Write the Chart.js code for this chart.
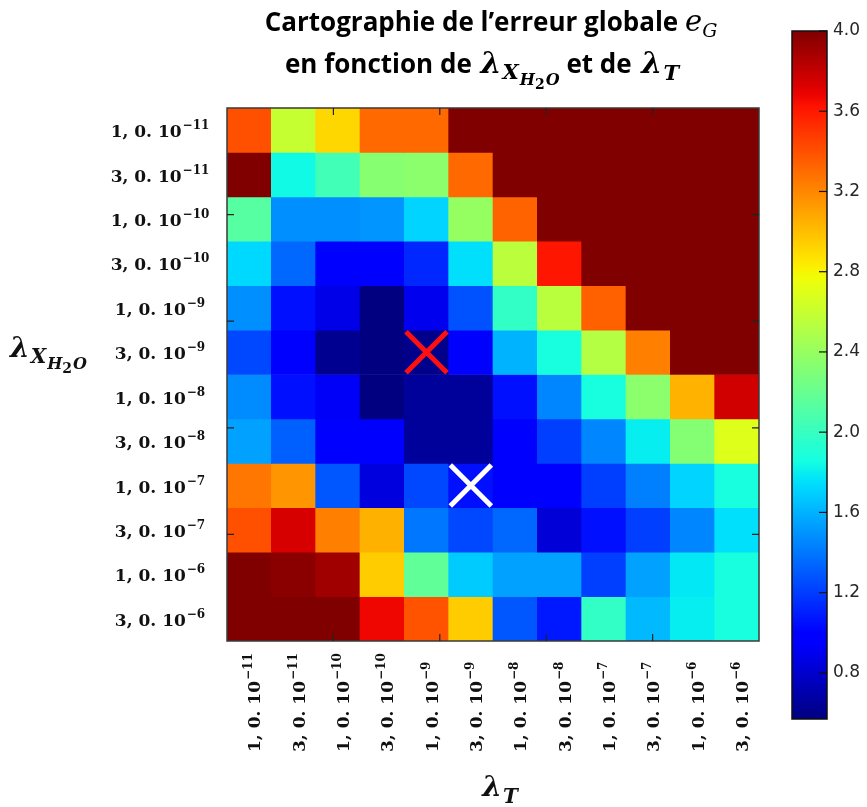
<!DOCTYPE html>
<html>
<head>
<meta charset="utf-8">
<script src="https://cdn.jsdelivr.net/npm/chart.js@4.4.1/dist/chart.umd.min.js"></script>
<style>
  html, body { margin: 0; padding: 0; background: #fff; }
</style>
</head>
<body>
<canvas id="carto" width="867" height="807"></canvas>
<script>
// tick labels (same grid for both lambdas)
var lambdaMant = ['1, 0. 10', '3, 0. 10', '1, 0. 10', '3, 0. 10', '1, 0. 10', '3, 0. 10',
                  '1, 0. 10', '3, 0. 10', '1, 0. 10', '3, 0. 10', '1, 0. 10', '3, 0. 10'];
var lambdaExp = ['\u221211', '\u221211', '\u221210', '\u221210', '\u22129', '\u22129',
                 '\u22128', '\u22128', '\u22127', '\u22127', '\u22126', '\u22126'];

// e_G, one array per lambda_XH2O row (top to bottom), columns = lambda_T
var row00 = [3.40, 2.59, 2.91, 3.31, 3.31, 4.00, 4.00, 4.00, 4.00, 4.00, 4.00, 4.00];
var row01 = [4.00, 1.84, 2.04, 2.33, 2.35, 3.31, 4.00, 4.00, 4.00, 4.00, 4.00, 4.00];
var row02 = [2.13, 1.48, 1.48, 1.50, 1.71, 2.39, 3.33, 4.00, 4.00, 4.00, 4.00, 4.00];
var row03 = [1.73, 1.35, 0.98, 0.98, 1.13, 1.75, 2.55, 3.61, 4.00, 4.00, 4.00, 4.00];
var row04 = [1.48, 1.05, 0.88, 0.57, 0.90, 1.27, 1.98, 2.54, 3.34, 4.00, 4.00, 4.00];
var row05 = [1.24, 0.98, 0.62, 0.57, 0.60, 0.98, 1.60, 1.87, 2.52, 3.23, 4.00, 4.00];
var row06 = [1.47, 1.05, 0.93, 0.57, 0.65, 0.65, 1.05, 1.45, 1.87, 2.35, 3.04, 3.76];
var row07 = [1.54, 1.32, 0.98, 0.98, 0.65, 0.65, 0.98, 1.21, 1.45, 1.80, 2.32, 2.69];
var row08 = [3.26, 3.15, 1.29, 0.85, 1.24, 1.05, 0.98, 0.98, 1.21, 1.43, 1.71, 1.87];
var row09 = [3.40, 3.74, 3.23, 3.05, 1.40, 1.24, 1.35, 0.83, 1.05, 1.21, 1.45, 1.75];
var row10 = [4.00, 3.97, 3.90, 2.95, 2.17, 1.68, 1.54, 1.54, 1.21, 1.54, 1.78, 1.87];
var row11 = [4.00, 4.00, 4.00, 3.67, 3.39, 2.95, 1.29, 1.08, 1.98, 1.62, 1.80, 1.87];
var rows = [row00, row01, row02, row03, row04, row05, row06, row07, row08, row09, row10, row11];

// colour scale
var vmin = 0.57, vmax = 4.0;
var cbTicks = [0.8, 1.2, 1.6, 2.0, 2.4, 2.8, 3.2, 3.6, 4.0];

// the two crosses (column, row)
var markCol = [4, 5];
var markRow = [5, 8];
var markColor = ['#ff1010', '#ffffff'];

var colLabels = lambdaMant.map(function (m, i) { return m + '^' + lambdaExp[i]; });
var nRows = rows.length;

function seg(t, pts) {
  for (var i = 1; i < pts.length; i++) {
    if (t <= pts[i][0]) {
      var a = pts[i - 1], b = pts[i];
      return a[1] + (b[1] - a[1]) * (t - a[0]) / (b[0] - a[0]);
    }
  }
  return pts[pts.length - 1][1];
}
// matplotlib "jet"
function jet(t) {
  t = Math.max(0, Math.min(1, t));
  var r = seg(t, [[0, 0], [0.35, 0], [0.66, 1], [0.89, 1], [1, 0.5]]);
  var g = seg(t, [[0, 0], [0.125, 0], [0.375, 1], [0.64, 1], [0.91, 0], [1, 0]]);
  var b = seg(t, [[0, 0.5], [0.11, 1], [0.34, 1], [0.65, 0], [1, 0]]);
  return 'rgb(' + Math.round(r * 255) + ',' + Math.round(g * 255) + ',' + Math.round(b * 255) + ')';
}
function colorOf(v) { return jet((v - vmin) / (vmax - vmin)); }

// text made of pieces with different fonts / offsets
function richWidth(ctx, parts) {
  var w = 0;
  parts.forEach(function (p) { ctx.font = p.f; w += ctx.measureText(p.t).width + (p.k || 0); });
  return w;
}
function richDraw(ctx, parts, x, y) {
  parts.forEach(function (p) {
    ctx.font = p.f;
    ctx.fillText(p.t, x, y + (p.dy || 0));
    x += ctx.measureText(p.t).width + (p.k || 0);
  });
}

var serifB = '"DejaVu Serif"';
var titleFont = 'bold 26px "Open Sans"';
function lambdaX(big, sub, subsub) {
  return [
    {t: '\u03bb', f: 'bold italic ' + big + 'px ' + serifB, k: 1},
    {t: 'X', f: 'bold italic ' + sub + 'px ' + serifB, dy: 6, k: 1},
    {t: 'H', f: 'bold italic ' + subsub + 'px ' + serifB, dy: 12},
    {t: '2', f: 'bold ' + (subsub - 2) + 'px ' + serifB, dy: 16, k: 1},
    {t: 'O', f: 'bold italic ' + subsub + 'px ' + serifB, dy: 12}
  ];
}

var decor = {
  id: 'decor',
  afterDraw: function (chart) {
    var ctx = chart.ctx, a = chart.chartArea, xs = chart.scales.x, ys = chart.scales.y;
    ctx.save();

    // frame + small inner ticks
    ctx.strokeStyle = '#3a3a3a';
    ctx.lineWidth = 1.5;
    ctx.strokeRect(a.left, a.top, a.right - a.left, a.bottom - a.top);
    ctx.lineWidth = 1.2;
    ctx.strokeStyle = '#222';
    ctx.beginPath();
    for (var k = 1; k < 5; k++) {
      var px = xs.getPixelForValue(-0.5 + nRows * k / 5);
      var py = ys.getPixelForValue(nRows * k / 5);
      ctx.moveTo(px, a.top); ctx.lineTo(px, a.top + 7);
      ctx.moveTo(px, a.bottom); ctx.lineTo(px, a.bottom - 7);
      ctx.moveTo(a.left, py); ctx.lineTo(a.left + 7, py);
      ctx.moveTo(a.right, py); ctx.lineTo(a.right - 7, py);
    }
    ctx.stroke();

    ctx.fillStyle = '#111';
    ctx.textAlign = 'left';
    ctx.textBaseline = 'alphabetic';

    var mantFont = 'bold 17px ' + serifB, expFont = 'bold 12px ' + serifB;
    // y tick labels
    for (var r = 0; r < nRows; r++) {
      var parts = [{t: lambdaMant[r], f: mantFont, k: 1},
                   {t: lambdaExp[r], f: expFont, dy: -8}];
      var w = richWidth(ctx, parts);
      richDraw(ctx, parts, 160 - w / 2, ys.getPixelForValue(nRows - 0.5 - r) + 7);
    }
    // x tick labels, rotated
    for (var c = 0; c < lambdaMant.length; c++) {
      var cx = xs.getPixelForValue(c);
      ctx.save();
      ctx.translate(cx + 11, 752);
      ctx.rotate(-Math.PI / 2);
      richDraw(ctx, [{t: lambdaMant[c], f: mantFont, k: 1},
                     {t: lambdaExp[c], f: expFont, dy: -8}], 0, 0);
      ctx.restore();
    }

    // axis titles
    richDraw(ctx, lambdaX(28, 20, 16), 10, 357);
    var lt = [{t: '\u03bb', f: 'bold italic 28px ' + serifB, k: 1},
              {t: 'T', f: 'bold italic 20px ' + serifB, dy: 7}];
    richDraw(ctx, lt, 500 - richWidth(ctx, lt) / 2, 796);

    // title
    ctx.fillStyle = '#000';
    var l1 = [{t: 'Cartographie de l\u2019erreur globale ', f: titleFont},
              {t: 'e', f: 'italic 29px ' + serifB},
              {t: 'G', f: 'italic 19px ' + serifB, dy: 6}];
    richDraw(ctx, l1, 491 - richWidth(ctx, l1) / 2, 31);
    var l2 = [{t: 'en fonction de ', f: titleFont, k: 2}].concat(lambdaX(30, 21, 16))
      .concat([{t: ' et de ', f: titleFont, k: 3},
               {t: '\u03bb', f: 'bold italic 30px ' + serifB, k: 1},
               {t: 'T', f: 'bold italic 21px ' + serifB, dy: 7}]);
    richDraw(ctx, l2, 482 - richWidth(ctx, l2) / 2, 73);

    // colour bar
    var cbL = 792, cbR = 827, cbT = 31, cbB = 719;
    var grad = ctx.createLinearGradient(0, cbB, 0, cbT);
    for (var s = 0; s <= 64; s++) grad.addColorStop(s / 64, jet(s / 64));
    ctx.fillStyle = grad;
    ctx.fillRect(cbL, cbT, cbR - cbL, cbB - cbT);
    ctx.strokeStyle = '#111';
    ctx.lineWidth = 1.5;
    ctx.strokeRect(cbL, cbT, cbR - cbL, cbB - cbT);
    ctx.lineWidth = 1.2;
    ctx.fillStyle = '#262626';
    ctx.font = '17px "DejaVu Sans"';
    ctx.textBaseline = 'middle';
    cbTicks.forEach(function (v) {
      var ty = cbB - (v - vmin) / (vmax - vmin) * (cbB - cbT);
      ctx.beginPath();
      ctx.moveTo(cbR - 8, ty); ctx.lineTo(cbR, ty);
      ctx.stroke();
      ctx.fillText(v.toFixed(1), cbR + 6, ty);
    });
    ctx.restore();
  }
};

var datasets = [{
  type: 'scatter',
  order: 0,
  data: markCol.map(function (c, i) { return {x: colLabels[c], y: nRows - 0.5 - markRow[i]}; }),
  pointStyle: 'crossRot',
  pointRadius: 29,
  pointBorderWidth: 5,
  pointBorderColor: markColor,
  pointBackgroundColor: markColor
}];
rows.forEach(function (vals, r) {
  datasets.push({
    type: 'bar',
    order: 1,
    label: lambdaMant[r] + '^' + lambdaExp[r],
    data: vals.map(function () { return [nRows - 1 - r, nRows - r]; }),
    backgroundColor: vals.map(colorOf),
    borderWidth: 0,
    barPercentage: 1,
    categoryPercentage: 1,
    grouped: false
  });
});

new Chart(document.getElementById('carto').getContext('2d'), {
  type: 'bar',
  data: {labels: colLabels, datasets: datasets},
  options: {
    responsive: false,
    animation: false,
    devicePixelRatio: 1,
    events: [],
    layout: {padding: {left: 227, top: 108, right: 108, bottom: 166}},
    plugins: {legend: {display: false}, tooltip: {enabled: false}},
    scales: {
      x: {type: 'category', display: false, offset: true},
      y: {type: 'linear', display: false, min: 0, max: nRows}
    }
  },
  plugins: [decor]
});
</script>
</body>
</html>
